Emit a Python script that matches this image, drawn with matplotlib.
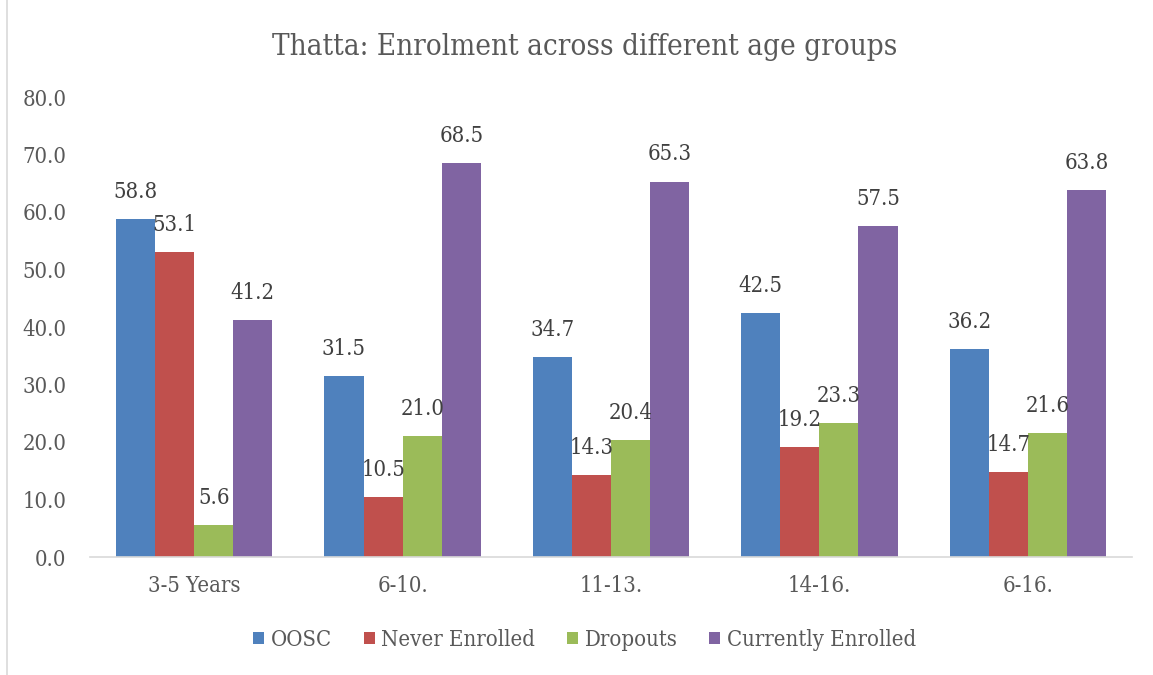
import matplotlib.pyplot as plt
import numpy as np
from matplotlib.patches import Rectangle

plt.rcParams["font.family"] = ["DejaVu Serif"]
plt.rcParams["font.stretch"] = "condensed"

age_groups = ["3-5 Years", "6-10.", "11-13.", "14-16.", "6-16."]
series_names = ["OOSC", "Never Enrolled", "Dropouts", "Currently Enrolled"]
oosc = [58.8, 31.5, 34.7, 42.5, 36.2]
never_enrolled = [53.1, 10.5, 14.3, 19.2, 14.7]
dropouts = [5.6, 21.0, 20.4, 23.3, 21.6]
currently_enrolled = [41.2, 68.5, 65.3, 57.5, 63.8]

colors = ["#4F81BD", "#C0504D", "#9BBB59", "#8064A2"]
text_grey = "#595959"
fs = 15.8

fig = plt.figure(figsize=(11.53, 6.75), dpi=100)
ax = fig.add_axes([90 / 1153, 1 - 557 / 675, 1042 / 1153, 460 / 675])

x = np.arange(len(age_groups))
w = 0.1875
all_series = [oosc, never_enrolled, dropouts, currently_enrolled]
for i, (vals, name, c) in enumerate(zip(all_series, series_names, colors)):
    pos = x + (i - 1.5) * w
    ax.bar(pos, vals, width=w, color=c, label=name, edgecolor="none")
    for p, v in zip(pos, vals):
        ax.text(p, v + 2.8, f"{v:.1f}", ha="center", va="bottom",
                fontsize=fs, color="#404040")

ax.set_xlim(-0.5, len(age_groups) - 0.5)
ax.set_ylim(0, 80)
ax.set_yticks(np.arange(0, 81, 10))
ax.set_yticklabels([f"{t:.1f}" for t in np.arange(0, 81, 10)])
ax.set_xticks(x)
ax.set_xticklabels(age_groups)
ax.tick_params(axis="both", length=0, labelsize=fs, labelcolor=text_grey)
ax.tick_params(axis="y", pad=17)
ax.tick_params(axis="x", pad=13)
for s in ["top", "right", "left"]:
    ax.spines[s].set_visible(False)
ax.spines["bottom"].set_color("#D9D9D9")
ax.spines["bottom"].set_linewidth(1.2)

fig.text(0.507, 1 - 47 / 675, "Thatta: Enrolment across different age groups",
         ha="center", va="center", fontsize=21.2, color=text_grey)

fig.legend(loc="center", bbox_to_anchor=(0.507, 1 - 640 / 675), ncol=4,
           frameon=False, fontsize=fs, handlelength=0.5, handleheight=0.5,
           handletextpad=0.3, columnspacing=1.45, labelcolor=text_grey)

# chart frame
fig.add_artist(Rectangle((7 / 1153, -0.01), 1.0, 1.02,
                         transform=fig.transFigure, fill=False,
                         edgecolor="#D9D9D9", linewidth=1.2))

fig.savefig("out.png", dpi=100)
